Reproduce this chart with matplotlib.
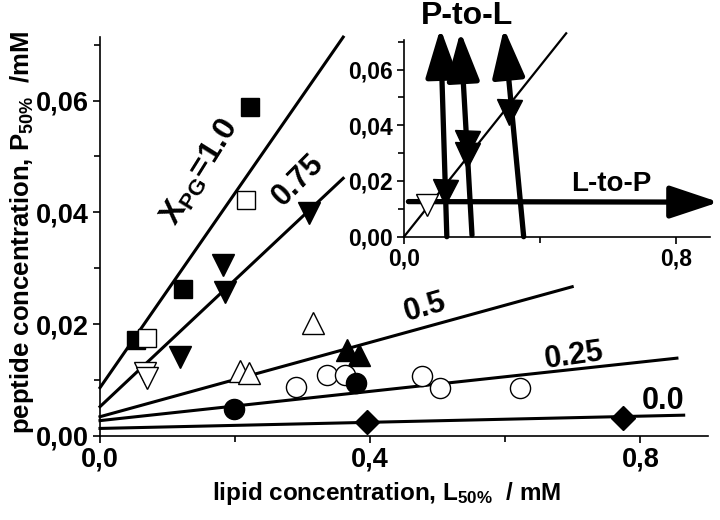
import matplotlib
matplotlib.use("Agg")
import matplotlib.pyplot as plt
from matplotlib.ticker import FixedLocator, FuncFormatter

plt.rcParams['font.family'] = ['Liberation Sans', 'DejaVu Sans']
plt.rcParams['font.weight'] = 'bold'
plt.rcParams['mathtext.fontset'] = 'custom'
plt.rcParams['mathtext.rm'] = 'Liberation Sans:bold'
plt.rcParams['mathtext.it'] = 'Liberation Sans:bold'
plt.rcParams['mathtext.bf'] = 'Liberation Sans:bold'

# ---------------- data (main panel) ----------------
sq_filled_x = [0.054, 0.123, 0.222]
sq_filled_y = [0.0171, 0.0262, 0.0588]
sq_open_x = [0.069, 0.216]
sq_open_y = [0.0175, 0.0422]
tri_down_filled_x = [0.119, 0.182, 0.185, 0.309]
tri_down_filled_y = [0.0141, 0.0306, 0.0257, 0.0398]
tri_down_open_x = [0.066, 0.069]
tri_down_open_y = [0.0112, 0.0104]
tri_up_open_x = [0.207, 0.220, 0.316]
tri_up_open_y = [0.0115, 0.0112, 0.0201]
tri_up_filled_x = [0.365, 0.383]
tri_up_filled_y = [0.0154, 0.0145]
circ_open_x = [0.290, 0.336, 0.363, 0.476, 0.504, 0.622]
circ_open_y = [0.0088, 0.0109, 0.0109, 0.0107, 0.0086, 0.0086]
circ_filled_x = [0.198, 0.379]
circ_filled_y = [0.0047, 0.0095]
diam_x = [0.395, 0.774]
diam_y = [0.0025, 0.0031]

# fit lines
fit_labels = ['1.0', '0.75', '0.5', '0.25', '0.0']
fit_x_end = [0.360, 0.360, 0.699, 0.854, 0.864]
fit_intercept = [0.0086, 0.0052, 0.0034, 0.0027, 0.0013]
fit_slope = [0.1744, 0.1136, 0.0333, 0.0131, 0.00275]

# ---------------- data (inset) ----------------
in_tri_filled_x = [0.120, 0.184, 0.184, 0.309]
in_tri_filled_y = [0.0162, 0.0293, 0.0335, 0.0449]
in_tri_open_x = [0.067]
in_tri_open_y = [0.0114]
in_line_x = [0.0, 0.477]
in_line_y = [0.0, 0.073]
# P-to-L arrows: start (x, y) -> tip (x, y)
ptl_start_x = [0.126, 0.200, 0.352]
ptl_start_y = [0.0, 0.0006, 0.0]
ptl_tip_x = [0.107, 0.166, 0.294]
ptl_tip_y = [0.0748, 0.0736, 0.0748]
ltp_start = (0.013, 0.0126)
ltp_tip = (0.926, 0.0124)


def fmt(dec):
    return FuncFormatter(lambda v, p: (f"{v:.{dec}f}").replace('.', ','))

fig = plt.figure(figsize=(7.2, 5.2), dpi=100)
ax = fig.add_axes([100/720, 1-435.7/520, 608/720, (435.7-37)/520])
ax.set_xlim(0, 0.9)
ax.set_ylim(0, 0.0714)
for s in ['top', 'right']:
    ax.spines[s].set_visible(False)
for s in ['left', 'bottom']:
    ax.spines[s].set_linewidth(1.2)
ax.xaxis.set_major_locator(FixedLocator([0.0, 0.4, 0.8]))
ax.xaxis.set_minor_locator(FixedLocator([0.2, 0.6]))
ax.yaxis.set_major_locator(FixedLocator([0.0, 0.02, 0.04, 0.06]))
ax.yaxis.set_minor_locator(FixedLocator([0.01, 0.03, 0.05, 0.07]))
ax.xaxis.set_major_formatter(fmt(1))
ax.yaxis.set_major_formatter(fmt(2))
ax.tick_params(which='major', direction='out', length=5, width=1.2, labelsize=19.5, pad=3)
ax.tick_params(which='minor', direction='out', length=4, width=1.2)

lw_fit = 2.2
for xe, b, m in zip(fit_x_end, fit_intercept, fit_slope):
    ax.plot([0, xe], [b, b + m * xe], color='k', lw=lw_fit, zorder=2, clip_on=False)

ms = 13.5
ax.plot(sq_filled_x, sq_filled_y, 's', ms=ms, mfc='k', mec='k', ls='none', zorder=3)
ax.plot(sq_open_x, sq_open_y, 's', ms=ms, mfc='white', mec='k', mew=1.0, ls='none', zorder=3)
ax.plot(tri_down_filled_x, tri_down_filled_y, 'v', ms=16, mfc='k', mec='k', ls='none', zorder=3)
ax.plot(tri_down_open_x, tri_down_open_y, 'v', ms=16, mfc='white', mec='k', mew=1.0, ls='none', zorder=3)
ax.plot(tri_up_open_x, tri_up_open_y, '^', ms=16, mfc='white', mec='k', mew=1.0, ls='none', zorder=3)
ax.plot(tri_up_filled_x, tri_up_filled_y, '^', ms=16, mfc='k', mec='k', ls='none', zorder=3)
ax.plot(circ_open_x, circ_open_y, 'o', ms=14.5, mfc='white', mec='k', mew=1.0, ls='none', zorder=3)
ax.plot(circ_filled_x, circ_filled_y, 'o', ms=14.5, mfc='k', mec='k', ls='none', zorder=3)
ax.plot(diam_x, diam_y, 'D', ms=12.5, mfc='k', mec='k', ls='none', zorder=3)

tfs = 22
ax.text(0.148, 0.0472, r'$\mathrm{X}_{\mathrm{PG}}$=1.0', rotation=58, fontsize=23,
        fontweight='bold', ha='center', va='center', rotation_mode='anchor')
ax.text(0.294, 0.0458, '0.75', rotation=45, fontsize=tfs, fontweight='bold',
        ha='center', va='center', rotation_mode='anchor')
ax.text(0.481, 0.0229, '0.5', rotation=16, fontsize=tfs, fontweight='bold',
        ha='center', va='center', rotation_mode='anchor')
ax.text(0.702, 0.0143, '0.25', rotation=8, fontsize=tfs, fontweight='bold',
        ha='center', va='center', rotation_mode='anchor')
ax.text(0.833, 0.0062, '0.0', rotation=0, fontsize=tfs, fontweight='bold',
        ha='center', va='center')

fig.text(387/720, 1-500/520, r'lipid concentration, L$_{50\%}$  / mM', fontsize=17.5,
         fontweight='bold', ha='center', va='baseline')
fig.text(22/720, 1-232/520, r'peptide concentration, P$_{50\%}$  /mM', fontsize=18.5,
         fontweight='bold', ha='center', va='center', rotation=90)

# ---------------- inset ----------------
axi = fig.add_axes([404/720, 1-236.7/520, 306/720, (236.7-40)/520])
axi.patch.set_alpha(0)
axi.set_xlim(0, 0.9)
axi.set_ylim(0, 0.0706)
for s in ['top', 'right']:
    axi.spines[s].set_visible(False)
for s in ['left', 'bottom']:
    axi.spines[s].set_linewidth(1.2)
axi.xaxis.set_major_locator(FixedLocator([0.0, 0.8]))
axi.xaxis.set_minor_locator(FixedLocator([0.4]))
axi.yaxis.set_major_locator(FixedLocator([0.0, 0.02, 0.04, 0.06]))
axi.yaxis.set_minor_locator(FixedLocator([0.01, 0.03, 0.05, 0.07]))
axi.xaxis.set_major_formatter(fmt(1))
axi.yaxis.set_major_formatter(fmt(2))
axi.tick_params(which='major', direction='out', length=5, width=1.2, labelsize=16.5, pad=3)
axi.tick_params(which='minor', direction='out', length=4, width=1.2)

axi.plot(in_line_x, in_line_y, color='k', lw=1.6, zorder=2, clip_on=False)
astyle = '-|>,head_length=1.5,head_width=0.5'
for sx, sy, tx, ty in zip(ptl_start_x, ptl_start_y, ptl_tip_x, ptl_tip_y):
    axi.annotate('', xy=(tx, ty), xytext=(sx, sy), xycoords='data', annotation_clip=False,
                 arrowprops=dict(arrowstyle=astyle, mutation_scale=20, lw=3.8, color='k',
                                 shrinkA=0, shrinkB=0), zorder=3)
axi.annotate('', xy=ltp_tip, xytext=ltp_start, xycoords='data', annotation_clip=False,
             arrowprops=dict(arrowstyle=astyle, mutation_scale=20, lw=3.8, color='k',
                             shrinkA=0, shrinkB=0), zorder=3)
axi.plot(in_tri_filled_x, in_tri_filled_y, 'v', ms=18, mfc='k', mec='k', ls='none', zorder=4)
axi.plot(in_tri_open_x, in_tri_open_y, 'v', ms=16, mfc='white', mec='k', mew=1.0, ls='none', zorder=4)

fig.text(467/720, 1-16/520, 'P-to-L', fontsize=23, fontweight='bold', ha='center', va='center')
axi.text(0.61, 0.0189, 'L-to-P', fontsize=20, fontweight='bold', ha='center', va='center')

fig.savefig('out.png', dpi=100)
